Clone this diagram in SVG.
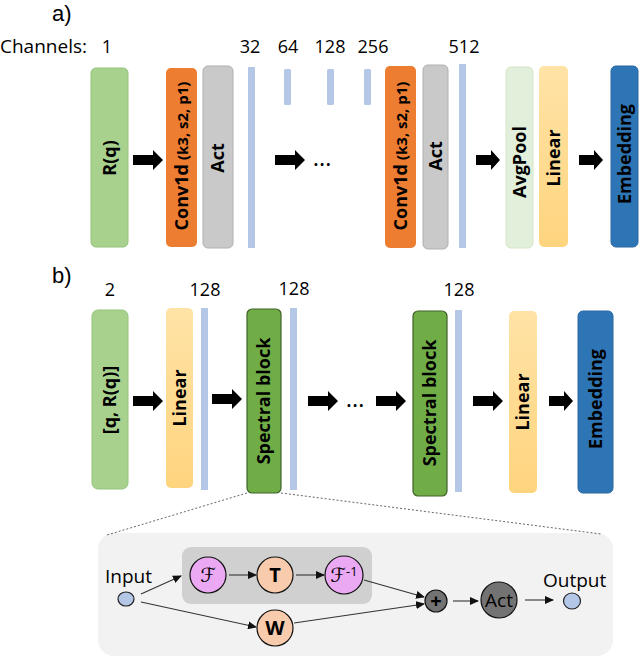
<svg xmlns="http://www.w3.org/2000/svg" width="640" height="657" viewBox="0 0 640 657">
<style>
text{font-family:"Open Sans","Liberation Sans",sans-serif;fill:#000}
.lbl{font-size:22px;font-family:"Liberation Sans","Open Sans",sans-serif}
.num{font-size:18px;text-anchor:middle}
.vt{font-size:18px;font-weight:bold;text-anchor:middle}
.bar{fill:#b4c7e7}
.in{fill:#a9d18e;stroke:#93c47d;stroke-width:1}
.conv{fill:#ed7d31}
.act{fill:#c9c9c9;stroke:#b0b0b0;stroke-width:1}
.pool{fill:#e2efda;stroke:#d3e6c6;stroke-width:1}
.lin{fill:url(#linGrad)}
.emb{fill:#2e75b6;stroke:#2a69a3;stroke-width:1}
.spec{fill:#70ad47;stroke:#3f6328;stroke-width:1.2}
.blk{fill:#000}
.thin{stroke:#333;stroke-width:1.1;fill:none;marker-end:url(#ah)}
.dot{stroke:#666;stroke-width:1;stroke-dasharray:2 2;fill:none}
.circF{fill:#eaa9f2;stroke:#111;stroke-width:1.2}
.circT{fill:#f8cbad;stroke:#111;stroke-width:1.2}
.circD{fill:#737373;stroke:#111;stroke-width:1.2}
.circI{fill:#b4c7e7;stroke:#222;stroke-width:1.2}
.ct{font-size:20px;text-anchor:middle}
.ell{font-size:24px;text-anchor:middle}
</style>
<defs>
<linearGradient id="linGrad" x1="0" y1="0" x2="0" y2="1">
<stop offset="0" stop-color="#ffe3a6"/>
<stop offset="1" stop-color="#ffd47e"/>
</linearGradient>
<path id="arL" d="M0,-5 H20 V-10 L30,0 L20,10 V5 H0 Z"/>
<path id="arS" d="M0,-5 H15 V-10 L24,0 L15,10 V5 H0 Z"/>
<marker id="ah" markerWidth="9" markerHeight="8" refX="8" refY="4" orient="auto" markerUnits="userSpaceOnUse">
<path d="M0,0 L9,4 L0,8 Z" fill="#111"/>
</marker>
</defs>

<!-- panel a labels -->
<text class="lbl" x="52" y="21">a)</text>
<text x="0" y="53" style="font-size:19px">Channels:</text>
<text class="num" x="107" y="53">1</text>
<text class="num" x="250" y="53">32</text>
<text class="num" x="288" y="53">64</text>
<text class="num" x="330" y="53">128</text>
<text class="num" x="373" y="53">256</text>
<text class="num" x="464" y="53">512</text>

<g id="a-input"><rect class="in" x="91" y="68" width="37" height="179" rx="5"/>
<text class="vt" transform="translate(110,158) rotate(-90)" y="6">R(q)</text></g>
<g id="a-conv1"><rect class="conv" x="166" y="68" width="31" height="179" rx="5"/>
<text class="vt" transform="translate(182,156) rotate(-90)" y="6">Conv1d<tspan font-size="15" dx="4">(k3, s2, p1)</tspan></text></g>
<g id="a-act1"><rect class="act" x="203" y="66" width="30" height="182" rx="5"/>
<text class="vt" transform="translate(218,158) rotate(-90)" y="6">Act</text></g>
<g id="a-bar32"><rect class="bar" x="248" y="67" width="7" height="181"/></g>
<g id="a-bar64"><rect class="bar" x="284" y="69" width="7" height="36" rx="1.5"/></g>
<g id="a-bar128"><rect class="bar" x="327" y="69" width="7" height="36" rx="1.5"/></g>
<g id="a-bar256"><rect class="bar" x="364" y="69" width="7" height="36" rx="1.5"/></g>
<g id="a-conv2"><rect class="conv" x="385" y="66" width="31" height="182" rx="5"/>
<text class="vt" transform="translate(401,156) rotate(-90)" y="6">Conv1d<tspan font-size="15" dx="4">(k3, s2, p1)</tspan></text></g>
<g id="a-act2"><rect class="act" x="423" y="65" width="25" height="184" rx="5"/>
<text class="vt" transform="translate(436,156) rotate(-90)" y="6">Act</text></g>
<g id="a-bar512"><rect class="bar" x="459" y="64" width="7" height="184"/></g>
<g id="a-pool"><rect class="pool" x="506" y="67" width="27" height="181" rx="5"/>
<text class="vt" transform="translate(520,162) rotate(-90)" y="6">AvgPool</text></g>
<g id="a-linear"><rect class="lin" x="539" y="66" width="29" height="181" rx="5"/>
<text class="vt" transform="translate(554,158) rotate(-90)" y="6">Linear</text></g>
<g id="a-emb"><rect class="emb" x="611" y="66" width="27" height="181" rx="5"/>
<text class="vt" transform="translate(625,154) rotate(-90)" y="6">Embedding</text></g>

<!-- panel b labels -->
<text class="lbl" x="52" y="283">b)</text>
<text class="num" x="110" y="296">2</text>
<text class="num" x="205" y="296">128</text>
<text class="num" x="294" y="295">128</text>
<text class="num" x="459" y="296">128</text>

<g id="b-input"><rect class="in" x="92" y="310" width="36" height="179" rx="6"/>
<text class="vt" transform="translate(110,400) rotate(-90)" y="6">[q, R(q)]</text></g>
<g id="b-linear1"><rect class="lin" x="166" y="308" width="27" height="180" rx="5"/>
<text class="vt" transform="translate(180,398) rotate(-90)" y="6">Linear</text></g>
<g id="b-bar1"><rect class="bar" x="201" y="308" width="7" height="182"/></g>
<g id="b-spec1"><rect class="spec" x="247" y="309" width="34" height="184" rx="5"/>
<text class="vt" transform="translate(264,401) rotate(-90)" y="6">Spectral block</text></g>
<g id="b-bar2"><rect class="bar" x="290" y="308" width="7" height="182"/></g>
<g id="b-spec2"><rect class="spec" x="413" y="311" width="34" height="185" rx="5"/>
<text class="vt" transform="translate(430,403) rotate(-90)" y="6">Spectral block</text></g>
<g id="b-bar3"><rect class="bar" x="455" y="310" width="7" height="182"/></g>
<g id="b-linear2"><rect class="lin" x="509" y="311" width="28" height="182" rx="5"/>
<text class="vt" transform="translate(523,402) rotate(-90)" y="6">Linear</text></g>
<g id="b-emb"><rect class="emb" x="578" y="311" width="35" height="182" rx="5"/>
<text class="vt" transform="translate(596,399) rotate(-90)" y="6">Embedding</text></g>

<!-- spectral block detail -->
<g id="detail-panel">
<rect x="98" y="533" width="515" height="123" rx="16" fill="#f2f2f2"/>
<rect x="182" y="547" width="190" height="57" rx="9" fill="#d0d0d0"/>
</g>
<g id="d-input"><text x="105" y="583" style="font-size:19px">Input</text>
<ellipse class="circI" cx="126" cy="599" rx="8" ry="7"/></g>
<g id="d-F"><circle class="circF" cx="208" cy="575" r="18"/>
<text x="208" y="582" text-anchor="middle" style="font-family:'DejaVu Serif','DejaVu Sans',serif;font-style:italic;font-size:20px">ℱ</text></g>
<g id="d-T"><circle class="circT" cx="275" cy="575" r="18"/>
<text class="ct" x="275" y="582" font-weight="bold">T</text></g>
<g id="d-Finv"><circle class="circF" cx="344" cy="575" r="19"/>
<text x="344" y="582" text-anchor="middle" style="font-family:'DejaVu Serif','DejaVu Sans',serif;font-size:20px"><tspan font-style="italic">ℱ</tspan><tspan font-family="Open Sans, sans-serif" font-size="13" dy="-6">-1</tspan></text></g>
<g id="d-W"><circle class="circT" cx="275" cy="628" r="18"/>
<text class="ct" x="275" y="635" font-weight="bold">W</text></g>
<g id="d-plus"><circle class="circD" cx="436" cy="601" r="11"/>
<text class="ct" x="436" y="608" font-weight="bold">+</text></g>
<g id="d-act"><circle class="circD" cx="499" cy="600" r="18"/>
<text x="499" y="607" text-anchor="middle" style="font-size:19px">Act</text></g>
<g id="d-output"><text x="543" y="587" style="font-size:19px">Output</text>
<ellipse class="circI" cx="572" cy="601" rx="8.5" ry="8"/></g>

<g id="connectors">
<use href="#arL" x="133" y="160" class="blk"/>
<use href="#arL" x="275" y="160" class="blk"/>
<text class="ell" x="322" y="166">…</text>
<use href="#arS" x="476" y="160" class="blk"/>
<use href="#arS" x="579" y="160" class="blk"/>

<use href="#arL" x="133" y="401" class="blk"/>
<use href="#arL" x="212" y="399" class="blk"/>
<use href="#arL" x="308" y="401" class="blk"/>
<text class="ell" x="355" y="407">…</text>
<use href="#arL" x="376" y="401" class="blk"/>
<use href="#arL" x="473" y="401" class="blk"/>
<use href="#arS" x="549" y="401" class="blk"/>

<path class="dot" d="M247,493 L107,535"/>
<path class="dot" d="M281,493 L601,534"/>

<path class="thin" d="M141,594 L181,576"/>
<path class="thin" d="M141,602 L256,627"/>
<path class="thin" d="M229,575 L256,575"/>
<path class="thin" d="M296,575 L324,575"/>
<path class="thin" d="M364,580 L424,597"/>
<path class="thin" d="M294,623 L424,604"/>
<path class="thin" d="M453,601 L478,601"/>
<path class="thin" d="M525,600 L553,600"/>
</g>
</svg>
